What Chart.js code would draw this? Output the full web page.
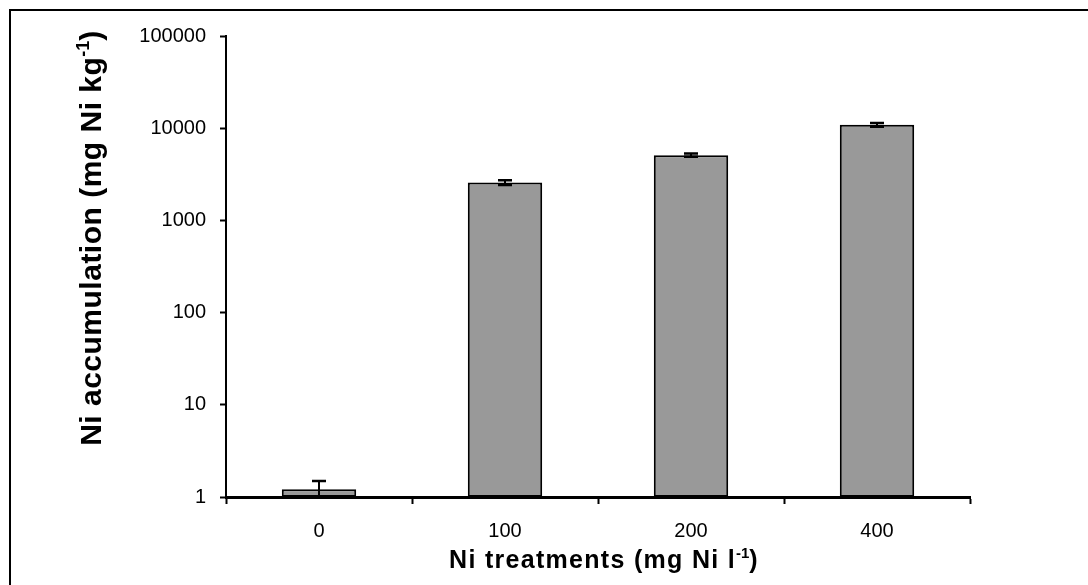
<!DOCTYPE html>
<html>
<head>
  <meta charset="UTF-8">
  <title>Ni accumulation</title>
  <script src="https://cdn.jsdelivr.net/npm/chart.js"></script>
  <style>
    body {
      margin: 0;
      background: #fff;
      overflow: hidden;
    }
    #frame {
      position: absolute;
      left: 9px;
      top: 9px;
      width: 1200px;
      height: 700px;
      border: 2px solid #000;
    }
    #chart {
      position: absolute;
      left: 0;
      top: 0;
    }
  </style>
</head>
<body>
  <div id="frame"></div>
  <canvas id="chart" width="1088" height="585"></canvas>

  <script>
    const categories = ['0', '100', '200', '400'];
    const accumulation = [1.21, 2570, 5100, 10900];
    const errors = [0.28, 150, 200, 500];
    const yTicks = [1, 10, 100, 1000, 10000, 100000];

    const FONT = "'Liberation Sans', Arial, sans-serif";

    // draws a line of text with a superscript part, centred on 0,0
    function drawRich(ctx, parts, size, spacing) {
      const setFont = p => {
        ctx.font = 'bold ' + (p.sup ? Math.round(size * 0.6) : size) + 'px ' + FONT;
        ctx.letterSpacing = (p.sup ? 0 : spacing) + 'px';
      };
      let widths = parts.map(p => {
        setFont(p);
        return ctx.measureText(p.t).width;
      });
      let total = widths.reduce((a, b) => a + b, 0);
      let x = -total / 2;
      ctx.textBaseline = 'alphabetic';
      ctx.textAlign = 'left';
      parts.forEach((p, i) => {
        setFont(p);
        ctx.fillText(p.t, x, p.sup ? -size * 0.4 : 0);
        x += widths[i];
      });
    }

    const titles = {
      id: 'titles',
      afterDraw(chart) {
        const ctx = chart.ctx;
        ctx.save();
        ctx.fillStyle = '#000';
        ctx.translate(101, 238);
        ctx.rotate(-Math.PI / 2);
        drawRich(ctx, [{t: 'Ni accumulation (mg Ni kg'}, {t: '-1', sup: true}, {t: ')'}], 30, 0.5);
        ctx.restore();

        ctx.save();
        ctx.fillStyle = '#000';
        ctx.translate(604, 568);
        drawRich(ctx, [{t: 'Ni treatments (mg Ni l'}, {t: '-1', sup: true}, {t: ')'}], 25, 1.3);
        ctx.restore();
      }
    };

    const errorBars = {
      id: 'errorBars',
      afterDatasetsDraw(chart) {
        const ctx = chart.ctx;
        const y = chart.scales.y;
        const area = chart.chartArea;
        const meta = chart.getDatasetMeta(0);
        ctx.save();
        ctx.beginPath();
        ctx.rect(area.left, area.top - 10, area.right - area.left, area.bottom - area.top + 10);
        ctx.clip();
        ctx.strokeStyle = '#000';
        meta.data.forEach((bar, i) => {
          const hi = y.getPixelForValue(accumulation[i] + errors[i]);
          const lo = y.getPixelForValue(Math.max(accumulation[i] - errors[i], 0.5));
          ctx.lineWidth = 2;
          ctx.beginPath();
          ctx.moveTo(bar.x, hi);
          ctx.lineTo(bar.x, lo);
          ctx.stroke();
          ctx.lineWidth = 2.5;
          ctx.beginPath();
          ctx.moveTo(bar.x - 7, hi);
          ctx.lineTo(bar.x + 7, hi);
          ctx.moveTo(bar.x - 7, lo);
          ctx.lineTo(bar.x + 7, lo);
          ctx.stroke();
        });
        ctx.restore();
      }
    };

    new Chart(document.getElementById('chart'), {
      type: 'bar',
      data: {
        labels: categories,
        datasets: [{
          data: accumulation,
          backgroundColor: '#999999',
          borderColor: '#000',
          borderWidth: 2,
          borderSkipped: false,
          categoryPercentage: 1,
          barPercentage: 0.4
        }]
      },
      options: {
        responsive: false,
        animation: false,
        layout: { padding: { top: 36, right: 118, left: 0, bottom: 0 } },
        plugins: {
          legend: { display: false },
          tooltip: { enabled: false }
        },
        scales: {
          x: {
            grid: { drawOnChartArea: false, color: '#000', tickLength: 7, tickWidth: 2 },
            border: { color: '#000', width: 3 },
            ticks: { color: '#000', font: { family: FONT, size: 20 }, padding: 15 },
            afterFit(scale) { scale.height = 88; }
          },
          y: {
            type: 'logarithmic',
            min: 1,
            max: 100000,
            grid: { drawOnChartArea: false, color: '#000', tickLength: 6, tickWidth: 2 },
            border: { color: '#000', width: 2 },
            ticks: {
              color: '#000',
              font: { family: FONT, size: 20 },
              padding: 14,
              callback: v => String(v)
            },
            afterBuildTicks(scale) { scale.ticks = yTicks.map(v => ({ value: v })); },
            afterFit(scale) { scale.width = 226; }
          }
        }
      },
      plugins: [errorBars, titles]
    });
  </script>
</body>
</html>
